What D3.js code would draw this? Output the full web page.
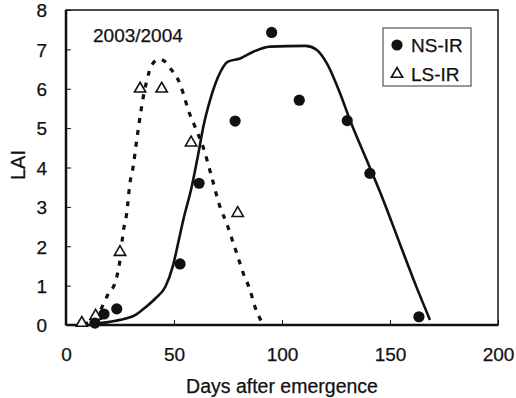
<!DOCTYPE html>
<html>
<head>
<meta charset="utf-8">
<script src="https://cdn.jsdelivr.net/npm/d3@7"></script>
<style>
    body { margin: 0; background: #fff; }
    text { font-family: "Liberation Sans", Arial, sans-serif; fill: #111; stroke: #111; stroke-width: 0.25; }
    .tick text { font-size: 19px; }
    .frame { fill: none; stroke: #111; stroke-width: 1.5; }
</style>
</head>
<body>
<div id="chart"></div>
<script>

// Measured points (days after emergence, LAI)
var nsDays = [13.4, 17.6, 23.5, 52.8, 61.6, 78.3, 95.2, 108, 130.2, 140.7, 163.4];
var nsLai  = [0.05, 0.28, 0.41, 1.55, 3.6, 5.18, 7.43, 5.71, 5.19, 3.85, 0.21];

var lsDays = [7.3, 13.7, 25, 34.3, 44.3, 57.9, 79.5];
var lsLai  = [0.05, 0.23, 1.85, 6.0, 6.0, 4.63, 2.84];

// Simulated curves
var nsCurveDays = [14, 20, 25, 32, 37, 41.5, 46, 49.5, 52, 54.3, 58.2, 61.3, 63.6, 66.7, 70.5, 75, 80.6, 86.7, 94.4, 111, 116, 120.7, 126.9, 131.5, 139.2, 146.9, 155, 162, 168.5];
var nsCurveLai  = [0.03, 0.08, 0.13, 0.25, 0.46, 0.68, 0.97, 1.5, 2.1, 2.67, 3.51, 4.36, 5.04, 5.71, 6.31, 6.69, 6.77, 6.94, 7.07, 7.09, 6.99, 6.65, 5.88, 5.2, 4.19, 3.17, 2.0, 1.0, 0.13];

var lsCurveDays = [8, 14, 19.3, 23.1, 25, 26.5, 28.1, 29.6, 31.2, 32.5, 34.3, 35.8, 37.3, 39.7, 43, 45.8, 48.5, 51.2, 54.3, 56.6, 59.7, 63.6, 67.4, 71.3, 74.4, 77.5, 79.8, 82.1, 85.2, 87.5, 90.6];
var lsCurveLai  = [0.02, 0.2, 0.76, 1.14, 1.65, 2.37, 2.84, 3.6, 4.06, 4.6, 5.29, 5.8, 6.18, 6.6, 6.75, 6.69, 6.5, 6.31, 5.88, 5.46, 5.04, 4.5, 3.77, 3.0, 2.58, 2.07, 1.69, 1.31, 0.89, 0.46, 0.08];

var xTicks = [0, 50, 100, 150, 200];
var yTicks = [0, 1, 2, 3, 4, 5, 6, 7, 8];
var seasonLabel = "2003/2004";
var seriesNames = ["NS-IR", "LS-IR"];

function zip(xs, ys) {
    return xs.map(function(x, i) { return {x: x, y: ys[i]}; });
}

/**
 * Constructor for the LAI chart
 */
function LaiChart() {
    var self = this;
    self.init();
}

LaiChart.prototype.init = function() {
    var self = this;
    self.margin = {top: 10, right: 18, bottom: 73, left: 66};
    self.width = 516 - self.margin.left - self.margin.right;
    self.height = 398 - self.margin.top - self.margin.bottom;

    self.svg = d3.select("#chart").append("svg")
        .attr("width", 516)
        .attr("height", 398);

    self.g = self.svg.append("g")
        .attr("transform", "translate(" + self.margin.left + "," + self.margin.top + ")");

    self.x = d3.scaleLinear().domain([0, 200]).range([0, self.width]);
    self.y = d3.scaleLinear().domain([0, 8]).range([self.height, 0]);
};

LaiChart.prototype.update = function() {
    var self = this;
    var x = self.x, y = self.y, g = self.g;

    //axes with inward ticks
    var xAxis = g.append("g")
        .attr("transform", "translate(0," + self.height + ")")
        .call(d3.axisBottom(x).tickValues(xTicks).tickSizeInner(-5).tickSizeOuter(0).tickPadding(23));
    var yAxis = g.append("g")
        .call(d3.axisLeft(y).tickValues(yTicks).tickSizeInner(-5).tickSizeOuter(0).tickPadding(19));

    [xAxis, yAxis].forEach(function(a) {
        a.select(".domain").remove();
        a.selectAll(".tick line").attr("stroke", "#111").attr("stroke-width", 1);
        a.selectAll(".tick text").attr("fill", "#111").attr("font-family", null).attr("font-size", null);
    });
    yAxis.selectAll(".tick text").attr("dy", "0.36em");

    g.append("rect").attr("class", "frame")
        .attr("x", 0).attr("y", 0)
        .attr("width", self.width).attr("height", self.height);
    g.append("line")
        .attr("x1", 0).attr("x2", 0).attr("y1", 0).attr("y2", self.height)
        .attr("stroke", "#111").attr("stroke-width", 2.5);
    g.append("line")
        .attr("x1", 0).attr("x2", self.width).attr("y1", self.height).attr("y2", self.height)
        .attr("stroke", "#111").attr("stroke-width", 2.5);

    //curves
    var line = d3.line()
        .x(function(d) { return x(d.x); })
        .y(function(d) { return y(d.y); })
        .curve(d3.curveMonotoneX);

    g.append("path")
        .datum(zip(lsCurveDays, lsCurveLai))
        .attr("d", line)
        .attr("fill", "none")
        .attr("stroke", "#111")
        .attr("stroke-width", 3.2)
        .attr("stroke-dasharray", "5,7");

    g.append("path")
        .datum(zip(nsCurveDays, nsCurveLai))
        .attr("d", line)
        .attr("fill", "none")
        .attr("stroke", "#111")
        .attr("stroke-width", 2.6);

    //markers
    var tri = d3.symbol().type(d3.symbolTriangle).size(55);

    g.selectAll("path.ls")
        .data(zip(lsDays, lsLai)).enter().append("path")
        .attr("class", "ls")
        .attr("d", tri)
        .attr("transform", function(d) { return "translate(" + x(d.x) + "," + y(d.y) + ")"; })
        .attr("fill", "#fff")
        .attr("stroke", "#111")
        .attr("stroke-width", 1.6);

    g.selectAll("circle.ns")
        .data(zip(nsDays, nsLai)).enter().append("circle")
        .attr("class", "ns")
        .attr("cx", function(d) { return x(d.x); })
        .attr("cy", function(d) { return y(d.y); })
        .attr("r", 5.6)
        .attr("fill", "#111");

    //labels
    g.append("text")
        .attr("x", 27).attr("y", 32)
        .attr("font-size", 19)
        .text(seasonLabel);

    self.svg.append("text")
        .attr("transform", "translate(25,165) rotate(-90)")
        .attr("text-anchor", "middle")
        .attr("font-size", 20)
        .text("LAI");

    self.svg.append("text")
        .attr("x", self.margin.left + self.width / 2)
        .attr("y", 393)
        .attr("text-anchor", "middle")
        .attr("font-size", 19.5)
        .text("Days after emergence");

    //legend
    var legend = self.svg.append("g").attr("transform", "translate(383,28)");
    legend.append("rect")
        .attr("width", 88).attr("height", 58)
        .attr("fill", "#fff").attr("stroke", "#333").attr("stroke-width", 1);
    legend.append("circle")
        .attr("cx", 14).attr("cy", 17).attr("r", 5.6).attr("fill", "#111");
    legend.append("path")
        .attr("d", tri)
        .attr("transform", "translate(14,46)")
        .attr("fill", "#fff").attr("stroke", "#111").attr("stroke-width", 1.6);
    legend.selectAll("text.leg")
        .data(seriesNames).enter().append("text")
        .attr("class", "leg")
        .attr("x", 28)
        .attr("y", function(d, i) { return 24 + i * 29; })
        .attr("font-size", 19)
        .text(function(d) { return d; });
};

var chart = new LaiChart();
chart.update();

</script>
</body>
</html>
